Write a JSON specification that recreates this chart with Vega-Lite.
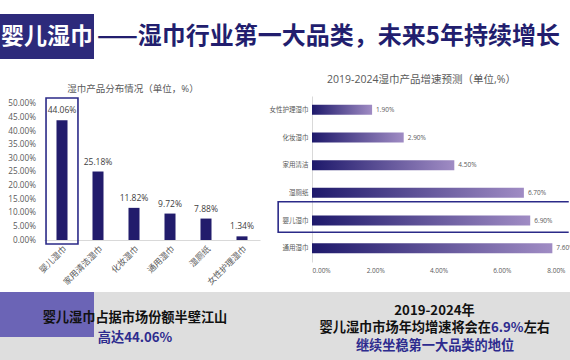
{
  "$schema": "https://vega.github.io/schema/vega-lite/v6.json",
  "background": "white",
  "padding": {"top": 14, "left": 0, "right": 0, "bottom": 0},
  "bounds": "flush",
  "columns": 2,
  "align": "each",
  "spacing": {"row": 30, "column": 0},
  "config": {
    "view": {"stroke": null},
    "font": "Open Sans, Noto Sans CJK SC",
    "axis": {"grid": false, "ticks": false, "tickSize": 0, "labelColor": "#595959", "labelFont": "Open Sans, Noto Sans CJK SC", "title": null, "labelOverlap": false},
    "title": {"font": "Open Sans, Noto Sans CJK SC", "color": "#595959", "fontWeight": "normal"}
  },
  "concat": [
    {
      "width": 94,
      "height": 45,
      "view": {"fill": "#2d2a7b", "stroke": null},
      "data": {"values": [{"text": "婴儿湿巾"}]},
      "mark": {"type": "text", "font": "Noto Sans CJK SC", "fontWeight": "bold", "fontSize": 23, "color": "white", "align": "center", "baseline": "middle"},
      "encoding": {"text": {"field": "text"}}
    },
    {
      "width": 258,
      "height": 52,
      "data": {"values": [{"text": "——湿巾行业第一大品类，未来5年持续增长"}]},
      "mark": {"type": "text", "font": "Noto Sans CJK SC", "fontWeight": "bold", "fontSize": 24, "color": "#221e6e", "align": "center", "baseline": "middle", "dx": -112.5, "dy": -3.5},
      "encoding": {"text": {"field": "text"}}
    },
    {
      "width": 312,
      "height": 144,
      "title": {"text": "湿巾产品分布情况（单位，%）", "fontSize": 9.5, "offset": 3, "dx": -23},
      "data": {"values": [
        {"category": "婴儿湿巾", "share": 0.4406},
        {"category": "家用清洁湿巾", "share": 0.2518},
        {"category": "化妆湿巾", "share": 0.1182},
        {"category": "通用湿巾", "share": 0.0972},
        {"category": "湿厕纸", "share": 0.0788},
        {"category": "女性护理湿巾", "share": 0.0134}
      ]},
      "encoding": {
        "x": {
          "field": "category", "type": "nominal", "sort": null,
          "scale": {"range": [44, 260], "paddingInner": 0.694, "paddingOuter": 0.347},
          "axis": {"labelAngle": -45, "labelFontSize": 8.5, "domainColor": "#d9d9d9", "labelPadding": 4}
        },
        "y": {
          "field": "share", "type": "quantitative",
          "scale": {"domain": [0, 0.5294], "nice": false},
          "axis": {"values": [0, 0.05, 0.1, 0.15, 0.2, 0.25, 0.3, 0.35, 0.4, 0.45, 0.5], "format": ".2%", "labelFontSize": 8.2, "domain": false, "labelPadding": -35.5, "labelAlign": "right", "labelOverlap": false}
        }
      },
      "layer": [
        {
          "mark": {"type": "bar", "color": "#221c6c"}
        },
        {
          "mark": {"type": "text", "dy": -5, "fontSize": 8.5, "color": "#404040", "baseline": "bottom"},
          "encoding": {
            "text": {"field": "share", "type": "quantitative", "format": ".2%"}
          }
        },
        {
          "transform": [{"filter": "datum.category === '婴儿湿巾'"}],
          "mark": {"type": "bar", "filled": false, "stroke": "#2b2a88", "strokeWidth": 1.6, "width": {"band": 2.9}},
          "encoding": {
            "y": {"datum": 0.522, "type": "quantitative", "axis": {"values": [0, 0.05, 0.1, 0.15, 0.2, 0.25, 0.3, 0.35, 0.4, 0.45, 0.5], "format": ".2%", "labelFontSize": 8.2, "domain": false, "labelPadding": -35.5, "labelAlign": "right", "labelOverlap": false}},
            "y2": {"datum": -0.0147}
          }
        }
      ]
    },
    {
      "width": 253,
      "height": 166,
      "title": {"text": "2019-2024湿巾产品增速预测（单位,%）", "fontSize": 10.5, "offset": 11, "dx": -17},
      "data": {"values": [
        {"category": "女性护理湿巾", "growth": 0.019},
        {"category": "化妆湿巾", "growth": 0.029},
        {"category": "家用清洁", "growth": 0.045},
        {"category": "湿厕纸", "growth": 0.067},
        {"category": "婴儿湿巾", "growth": 0.069},
        {"category": "通用湿巾", "growth": 0.076}
      ]},
      "encoding": {
        "y": {
          "field": "category", "type": "nominal", "sort": null,
          "scale": {"paddingInner": 0.64, "paddingOuter": 0.32},
          "axis": {"labelFontSize": 6.5, "domainColor": "#d9d9d9", "labelPadding": 4}
        }
      },
      "layer": [
        {
          "mark": {
            "type": "bar",
            "color": {"gradient": "linear", "x1": 0, "y1": 0, "x2": 1, "y2": 0, "stops": [{"offset": 0, "color": "#1e196b"}, {"offset": 1, "color": "#a08cc4"}]}
          },
          "encoding": {
            "x": {
              "field": "growth", "type": "quantitative",
              "scale": {"domain": [0, 0.08], "nice": false},
              "axis": {
                "values": [0, 0.01, 0.02, 0.03, 0.04, 0.05, 0.06, 0.07, 0.08],
                "format": ".2%", "labelFontSize": 6.5, "domain": false, "labelPadding": 5
              }
            }
          }
        },
        {
          "mark": {"type": "text", "align": "left", "dx": 4, "fontSize": 6.5, "color": "#595959"},
          "encoding": {
            "x": {"field": "growth", "type": "quantitative"},
            "text": {"field": "growth", "type": "quantitative", "format": ".2%"}
          }
        },
        {
          "transform": [{"filter": "datum.category === '婴儿湿巾'"}],
          "mark": {"type": "bar", "filled": false, "stroke": "#2b2a88", "strokeWidth": 1.6, "height": {"band": 3.06}, "yOffset": -3.5, "strokeDash": [290.6, 30.6, 400]},
          "encoding": {"x": {"datum": -0.0107}, "x2": {"datum": 0.0812}}
        }
      ]
    },
    {
      "width": 312,
      "height": 68,
      "view": {"fill": "#dedede", "stroke": null},
      "layer": [
        {
          "data": {"values": [{"panel": "highlight"}]},
          "mark": {"type": "rect", "color": "#6b64b6"},
          "encoding": {
            "x": {"field": "panel", "type": "nominal", "scale": {"domain": ["highlight", "rest"], "range": [0, 188], "paddingInner": 0, "paddingOuter": 0}, "axis": null},
            "y": {"field": "panel", "type": "nominal", "scale": {"domain": ["highlight", "rest"], "range": [0, 90], "paddingInner": 0, "paddingOuter": 0}, "axis": null}
          }
        },
        {
          "data": {"values": [{"text": "婴儿湿巾占据市场份额半壁江山"}]},
          "mark": {"type": "text", "font": "Noto Sans CJK SC", "fontWeight": "bold", "fontSize": 13.2, "color": "#111111", "align": "center", "baseline": "middle", "dx": -21, "dy": -8.5},
          "encoding": {"text": {"field": "text"}}
        },
        {
          "data": {"values": [{"text": "高达44.06%"}]},
          "mark": {"type": "text", "font": "Noto Sans CJK SC", "fontWeight": "bold", "fontSize": 13.2, "color": "#2d2b8e", "align": "center", "baseline": "middle", "dx": -21, "dy": 12},
          "encoding": {"text": {"field": "text"}}
        }
      ]
    },
    {
      "width": 258,
      "height": 68,
      "view": {"fill": "#dedede", "stroke": null},
      "layer": [
        {
          "data": {"values": [{"text": "2019-2024年"}]},
          "mark": {"type": "text", "font": "Noto Sans CJK SC", "fontWeight": "bold", "fontSize": 13.2, "color": "#111111", "align": "center", "baseline": "middle", "dx": -6.5, "dy": -15},
          "encoding": {"text": {"field": "text"}}
        },
        {
          "data": {"values": [{"text": "婴儿湿巾市场年均增速将会在"}]},
          "mark": {"type": "text", "font": "Noto Sans CJK SC", "fontWeight": "bold", "fontSize": 13.2, "color": "#111111", "align": "right", "baseline": "middle", "dx": 50, "dy": 2},
          "encoding": {"text": {"field": "text"}}
        },
        {
          "data": {"values": [{"text": "6.9%"}]},
          "mark": {"type": "text", "font": "Noto Sans CJK SC", "fontWeight": "bold", "fontSize": 13.2, "color": "#2d2b8e", "align": "left", "baseline": "middle", "dx": 50, "dy": 2},
          "encoding": {"text": {"field": "text"}}
        },
        {
          "data": {"values": [{"text": "左右"}]},
          "mark": {"type": "text", "font": "Noto Sans CJK SC", "fontWeight": "bold", "fontSize": 13.2, "color": "#111111", "align": "right", "baseline": "middle", "dx": 109, "dy": 2},
          "encoding": {"text": {"field": "text"}}
        },
        {
          "data": {"values": [{"text": "继续坐稳第一大品类的地位"}]},
          "mark": {"type": "text", "font": "Noto Sans CJK SC", "fontWeight": "bold", "fontSize": 13.2, "color": "#2d2b8e", "align": "center", "baseline": "middle", "dx": -6, "dy": 20},
          "encoding": {"text": {"field": "text"}}
        }
      ]
    }
  ]
}
